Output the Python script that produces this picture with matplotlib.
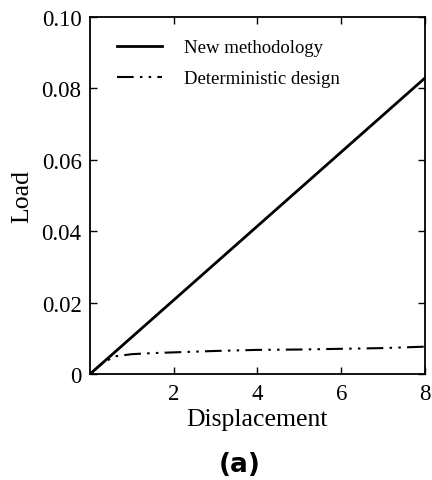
import matplotlib
matplotlib.use("Agg")
import matplotlib.pyplot as plt

# data
disp_new = [0.0, 8.0]
load_new = [0.0, 0.0829]

disp_det = [0.0, 0.3, 0.6, 1.0, 1.5, 2.0, 3.0, 4.0, 5.0, 6.0, 7.0, 8.0]
load_det = [0.0, 0.0031, 0.0050, 0.0056, 0.0059, 0.0061, 0.0065, 0.0068, 0.0069, 0.0071, 0.0073, 0.0077]

xticks = [2, 4, 6, 8]
yticks = [0, 0.02, 0.04, 0.06, 0.08, 0.10]
ytick_labels = ["0", "0.02", "0.04", "0.06", "0.08", "0.10"]

plt.rcParams['font.family'] = ['Liberation Serif', 'DejaVu Serif']

fig = plt.figure(figsize=(4.32, 4.81), dpi=100)
ax = fig.add_axes([0.208, 0.220, 0.776, 0.743])

ax.plot(disp_new, load_new, color='black', linewidth=2.0, label='New methodology')
ax.plot(disp_det, load_det, color='black', linewidth=1.5,
        dashes=(8, 3, 1.2, 3, 1.2, 3), label='Deterministic design')

ax.set_xlim(0, 8)
ax.set_ylim(0, 0.10)
ax.set_xticks(xticks)
ax.set_xticklabels([str(t) for t in xticks])
ax.set_yticks(yticks)
ax.set_yticklabels(ytick_labels)
ax.tick_params(direction='in', top=True, right=True, labelsize=16.5,
               length=5, width=1.0, pad=6)
for s in ax.spines.values():
    s.set_linewidth(1.3)

ax.set_xlabel('Displacement', fontsize=18.5, labelpad=3)
ax.set_ylabel('Load', fontsize=18.5, labelpad=6)

ax.legend(loc='upper left', frameon=False, fontsize=13.5, handlelength=2.4,
          handletextpad=1.2, labelspacing=0.75, bbox_to_anchor=(0.03, 0.985))

fig.text(0.555, 0.034, '(a)', fontsize=19, fontweight='bold',
         family='DejaVu Sans', ha='center', va='center')

fig.savefig('out.png', dpi=100, facecolor='white')
